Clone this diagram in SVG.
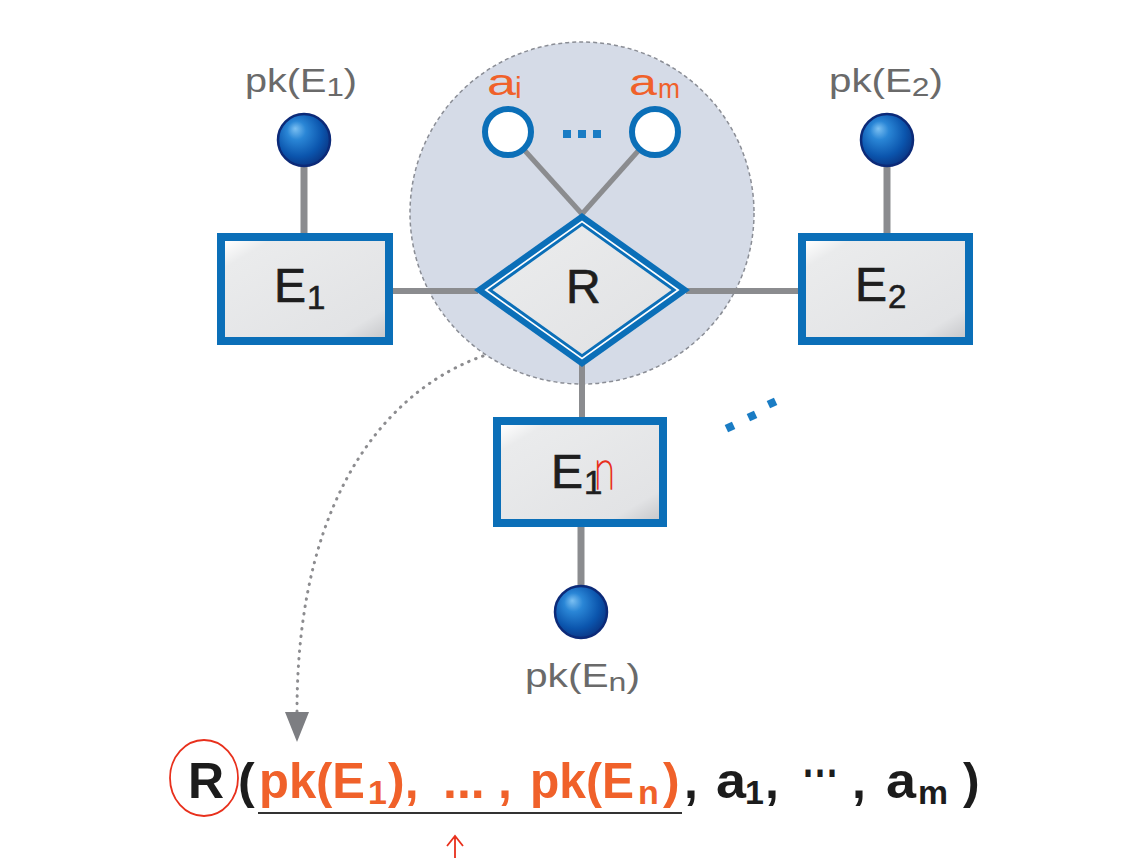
<svg xmlns="http://www.w3.org/2000/svg" width="1138" height="858" viewBox="0 0 1138 858">
<defs>
  <style>
    .conn{stroke:#8b8c8f;fill:none}
    .ent{fill:#0b6fb8}
    .lbl{font-family:"Liberation Sans",Arial,sans-serif;fill:#6a6a6a;font-size:33px}
    .big{font-family:"Liberation Sans",Arial,sans-serif;fill:#1e1e1e;font-size:48px;stroke:#1e1e1e;stroke-width:0.7}
    .sub{font-family:"Liberation Sans",Arial,sans-serif;fill:#1e1e1e;font-size:33px;stroke:#1e1e1e;stroke-width:0.6}
    .attr{font-family:"Liberation Sans",Arial,sans-serif;fill:#f0612a}
    .fx{font-family:"Liberation Sans",Arial,sans-serif;font-weight:bold;font-size:50px}
    .fxs{font-family:"Liberation Sans",Arial,sans-serif;font-weight:bold;font-size:34px}
    .or{fill:#f0612a}
    .bk{fill:#1c1c1c}
    .red{stroke:#e8301c;fill:none;stroke-width:1.8}
  </style>
  <linearGradient id="boxFill" x1="0" y1="0" x2="1" y2="1">
    <stop offset="0" stop-color="#ffffff"/>
    <stop offset="0.14" stop-color="#eaebec"/>
    <stop offset="0.85" stop-color="#e2e3e5"/>
    <stop offset="1" stop-color="#c8c9cc"/>
  </linearGradient>
  <radialGradient id="ball" cx="0.42" cy="0.4" r="0.6" fx="0.33" fy="0.28">
    <stop offset="0" stop-color="#7cc0f2"/>
    <stop offset="0.3" stop-color="#2a86d6"/>
    <stop offset="0.75" stop-color="#0b55ad"/>
    <stop offset="1" stop-color="#0a3a8a"/>
  </radialGradient>
  <marker id="tri" viewBox="0 0 30 24" markerWidth="30" markerHeight="24" refX="0" refY="12" orient="auto" markerUnits="userSpaceOnUse">
    <path d="M0,0 L30,12 L0,24 z" fill="#7d7e82"/>
  </marker>
</defs>
<rect width="1138" height="858" fill="#ffffff"/>

<g id="aggregation">
  <ellipse cx="582" cy="213" rx="172" ry="171" fill="#d5dbe7" stroke="#8a8d95" stroke-width="1.5" stroke-dasharray="4 3"/>
</g>

<g id="connectors">
  <line class="conn" x1="304" y1="160" x2="304" y2="236" stroke-width="7"/>
  <line class="conn" x1="887" y1="160" x2="887" y2="236" stroke-width="7"/>
  <line class="conn" x1="581" y1="524" x2="581" y2="592" stroke-width="7"/>
  <line class="conn" x1="390" y1="291" x2="478" y2="291" stroke-width="6"/>
  <line class="conn" x1="686" y1="291" x2="801" y2="291" stroke-width="6"/>
  <line class="conn" x1="582" y1="360" x2="582" y2="420" stroke-width="6"/>
  <line class="conn" x1="508" y1="132" x2="582" y2="214" stroke-width="5"/>
  <line class="conn" x1="655" y1="132" x2="582" y2="214" stroke-width="5"/>
  <path d="M483,356 C400,385 297,480 297,712" fill="none" stroke="#8c8c8f" stroke-width="3" stroke-dasharray="0.5 7" stroke-linecap="round" marker-end="url(#tri)"/>
</g>

<g id="pkE1">
  <circle cx="304" cy="140" r="26" fill="url(#ball)" stroke="#0c2a78" stroke-width="2.5"/>
  <text class="lbl" x="245" y="92" textLength="112" lengthAdjust="spacingAndGlyphs">pk(E<tspan font-size="26" dy="4">1</tspan><tspan dy="-4">)</tspan></text>
</g>
<g id="pkE2">
  <circle cx="887" cy="140" r="26" fill="url(#ball)" stroke="#0c2a78" stroke-width="2.5"/>
  <text class="lbl" x="829" y="92" textLength="114" lengthAdjust="spacingAndGlyphs">pk(E<tspan font-size="26" dy="4">2</tspan><tspan dy="-4">)</tspan></text>
</g>
<g id="pkEn">
  <circle cx="581" cy="612" r="26" fill="url(#ball)" stroke="#0c2a78" stroke-width="2.5"/>
  <text class="lbl" x="525" y="687" textLength="115" lengthAdjust="spacingAndGlyphs">pk(E<tspan font-size="26" dy="4">n</tspan><tspan dy="-4">)</tspan></text>
</g>

<g id="E1">
  <rect class="ent" x="217" y="233" width="176" height="112"/>
  <rect x="225" y="241" width="160" height="96" fill="url(#boxFill)"/>
  <text class="big" x="274" y="302">E</text>
  <text class="sub" x="307" y="309">1</text>
</g>
<g id="E2">
  <rect class="ent" x="798" y="233" width="175" height="112"/>
  <rect x="806" y="241" width="159" height="96" fill="url(#boxFill)"/>
  <text class="big" x="855" y="301">E</text>
  <text class="sub" x="888" y="308">2</text>
</g>
<g id="En">
  <rect class="ent" x="493" y="417" width="174" height="110"/>
  <rect x="501" y="425" width="158" height="94" fill="url(#boxFill)"/>
  <text class="big" x="551" y="488">E</text>
  <text class="sub" x="584" y="494">1</text>
  <text x="594" y="489" font-family="Lato,'Liberation Sans',sans-serif" font-weight="100" font-size="56" fill="#e8301c" stroke="#e8301c" stroke-width="1.6" textLength="21" lengthAdjust="spacingAndGlyphs">n</text>
</g>

<g id="R">
  <path d="M582,213 L690,290 L582,367 L474,290 Z" fill="#0b6fb8"/>
  <path d="M582,220.4 L679.6,290 L582,359.6 L484.4,290 Z" fill="#ffffff"/>
  <path d="M582,222.5 L676.6,290 L582,357.5 L487.4,290 Z" fill="#0b6fb8"/>
  <path d="M582,226 L671.5,290 L582,354 L492.5,290 Z" fill="url(#boxFill)"/>
  <text class="big" x="566" y="303">R</text>
</g>

<g id="ai">
  <circle cx="508" cy="132" r="23" fill="#ffffff" stroke="#0b6fb8" stroke-width="6"/>
  <text class="attr" x="487" y="95" font-size="36" textLength="29" lengthAdjust="spacingAndGlyphs">a</text>
  <text class="attr" x="515" y="98" font-size="30">i</text>
</g>
<g id="am">
  <circle cx="655" cy="132" r="23" fill="#ffffff" stroke="#0b6fb8" stroke-width="6"/>
  <text class="attr" x="629" y="95" font-size="36" textLength="28" lengthAdjust="spacingAndGlyphs">a</text>
  <text class="attr" x="658" y="98" font-size="28" textLength="22" lengthAdjust="spacingAndGlyphs">m</text>
</g>
<g id="attrDots" fill="#1a7cc4">
  <rect x="563" y="130" width="8" height="8"/>
  <rect x="578" y="130" width="8" height="8"/>
  <rect x="593" y="130" width="8" height="8"/>
</g>
<g id="moreDots" fill="#1a7cc4">
  <rect x="726" y="423" width="8" height="8" transform="rotate(-25 730 427)"/>
  <rect x="748" y="412" width="8" height="8" transform="rotate(-25 752 416)"/>
  <rect x="768" y="399" width="8" height="8" transform="rotate(-25 772 403)"/>
</g>

<g id="formula">
  <text class="fx bk" x="188" y="798">R</text>
  <text class="fx bk" x="238" y="798">(</text>
  <text class="fx or" x="259" y="798" textLength="106" lengthAdjust="spacingAndGlyphs">pk(E</text>
  <text class="fxs or" x="368" y="804">1</text>
  <text class="fx or" x="388" y="798">),</text>
  <text class="fx or" x="443" y="798">...</text>
  <text class="fx or" x="498" y="798">,</text>
  <text class="fx or" x="530" y="798" textLength="104" lengthAdjust="spacingAndGlyphs">pk(E</text>
  <text class="fxs or" x="638" y="804">n</text>
  <text class="fx or" x="663" y="798">)</text>
  <text class="fx bk" x="684" y="798">,</text>
  <text class="fx bk" x="716" y="798" textLength="30" lengthAdjust="spacingAndGlyphs">a</text>
  <text class="fxs bk" x="745" y="804">1</text>
  <text class="fx bk" x="765" y="798">,</text>
  <text class="fx bk" x="803" y="790" textLength="36" lengthAdjust="spacingAndGlyphs">···</text>
  <text class="fx bk" x="852" y="798">,</text>
  <text class="fx bk" x="886" y="798" textLength="30" lengthAdjust="spacingAndGlyphs">a</text>
  <text class="fxs bk" x="918" y="804" textLength="30" lengthAdjust="spacingAndGlyphs">m</text>
  <text class="fx bk" x="963" y="798">)</text>
  <line x1="258" y1="813" x2="682" y2="813" stroke="#333333" stroke-width="2"/>
</g>

<g id="annotations">
  <ellipse class="red" cx="204" cy="778" rx="34" ry="38"/>
  <path class="red" d="M455,858 L455,836 M447,846 L455,836 L463,846" stroke-width="1.5"/>
</g>
</svg>
